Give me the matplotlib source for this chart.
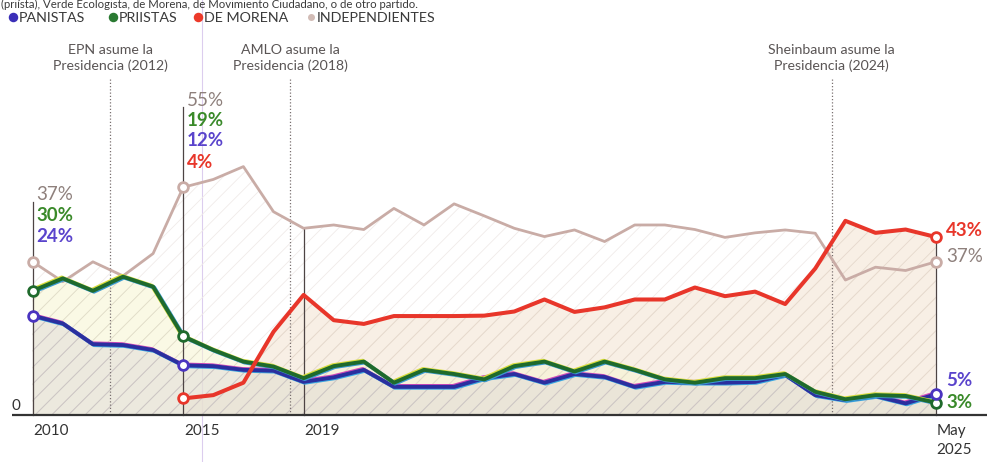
import numpy as np
import matplotlib
matplotlib.use("Agg")
import matplotlib.pyplot as plt
import matplotlib.patheffects as pe

plt.rcParams['font.family'] = ['Lato', 'DejaVu Sans']
plt.rcParams['hatch.linewidth'] = 0.6

# ---------------- data ----------------
periods = list(range(31))
tick_pos = [0, 5, 9, 30]
tick_labels = ["2010", "2015", "2019", "May\n2025"]

panistas = [24, 22.1, 17.1, 16.9, 15.7, 12, 11.8, 10.9, 10.7, 8.0,
            9.1, 10.9, 6.8, 6.8, 6.8, 8.9, 9.9, 7.8, 9.9, 9.2,
            6.8, 8.0, 7.8, 7.8, 8.0, 9.7, 4.8, 3.6, 4.6, 2.8, 5]
priistas = [30, 33.0, 30, 33.4, 31, 19, 15.7, 12.9, 11.7, 8.9,
            11.8, 12.9, 7.8, 10.9, 9.9, 8.6, 11.8, 12.9, 10.5, 12.9,
            10.9, 8.6, 7.8, 8.9, 8.9, 9.9, 5.6, 3.8, 4.8, 4.6, 3]
morena = [np.nan, np.nan, np.nan, np.nan, np.nan,
          4, 4.8, 7.8, 20.1, 29.0,
          22.9, 22.0, 23.9, 23.9, 23.9, 24.0, 25.0, 27.9, 24.9, 26.0,
          27.9, 27.9, 30.8, 28.7, 29.8, 26.8, 35.4, 46.9, 44.0, 44.8, 43]
independientes = [37, 32.2, 37, 33.6, 39, 55, 56.9, 60, 49.1, 45.1,
                  45.9, 44.8, 49.9, 45.9, 51.0, 48.1, 45.1, 43.1, 44.7, 41.9,
                  45.9, 45.9, 44.8, 42.9, 44.0, 44.7, 43.9, 32.6, 35.7, 34.9, 37]

series_names = ["PANISTAS", "PRIISTAS", "DE MORENA", "INDEPENDIENTES"]
event_labels = ["EPN asume la\nPresidencia (2012)",
                "AMLO asume la\nPresidencia (2018)",
                "Sheinbaum asume la\nPresidencia (2024)"]
event_pos = [2.57, 8.55, 26.54]
label_idx = [0, 5, 30]
top_text = "(priísta), Verde Ecologista, de Morena, de Movimiento Ciudadano, o de otro partido."

# ---------------- styles ----------------
C_PAN = '#2b2f9e'
C_PRI = '#1f6a2c'
C_MOR = '#e8362a'
C_IND = '#c9aca6'
C_PAN_T = '#5a44cc'
C_PRI_T = '#3a8a2a'
C_IND_T = '#8e807c'

W, H = 997, 462
fig = plt.figure(figsize=(W / 100, H / 100), dpi=100)
fig.patch.set_facecolor('white')
ax = fig.add_axes([0, 0, 1, 1])
ax.set_axis_off()

x0px, dxpx = 32.7, 30.1
y0px, dypx = 415.0, 4.14
ax.set_xlim(-x0px / dxpx, (W - x0px) / dxpx)
ax.set_ylim(-(H - y0px) / dypx, y0px / dypx)


def P(x, y):
    return (x / W, 1 - y / H)


x = np.array(periods, dtype=float)
pan = np.array(panistas)
pri = np.array(priistas)
mor = np.array(morena)
ind = np.array(independientes)
mmask = ~np.isnan(mor)

# ---------------- fills ----------------
ax.fill_between(x, 0, ind, facecolor='none', edgecolor='#f0ebe9', hatch='//',
                lw=0, zorder=1)
ax.fill_between(x[mmask], 0, mor[mmask], facecolor=(0.95, 0.88, 0.80, 0.50),
                edgecolor='#e5d8cc', hatch='//', lw=0, zorder=1.1)
ax.fill_between(x, 0, pri, facecolor=(0.97, 0.96, 0.82, 0.55),
                edgecolor='#e0ddc8', hatch='//', lw=0, zorder=1.2)
ax.fill_between(x, 0, pan, facecolor=(0.86, 0.84, 0.84, 0.45),
                edgecolor='#cbc4c4', hatch='//', lw=0, zorder=1.3)

# ---------------- reference lines ----------------
for ev, lab in zip(event_pos, event_labels):
    ax.plot([ev, ev], [0, (y0px - 78) / dypx], color='#7a7070', lw=0.9,
            ls=(0, (1, 1.6)), zorder=2)
    ax.text(ev, (y0px - 58) / dypx, lab, ha='center', va='center',
            fontsize=10.2, color='#5a5555', linespacing=1.3, zorder=5)

# solid verticals at labelled points
vtops = [(y0px - 202) / dypx, (y0px - 107) / dypx,
         independientes[9], morena[30]]
for xi, top in zip([0, 5, 9, 30], vtops):
    ax.plot([xi, xi], [0, top], color='#4d4444', lw=0.9, zorder=2)

# scan artifact line
ax.plot([(202 - x0px) / dxpx] * 2, [-20, 110], color='#dccdee', lw=0.8,
        zorder=0.5)

# baseline
ax.plot([(12 - x0px) / dxpx, (987 - x0px) / dxpx], [0, 0], color='#333333',
        lw=1.6, zorder=3, solid_capstyle='butt')

# ---------------- series lines ----------------
ax.plot(x, ind, color=C_IND, lw=2.0, zorder=3.5)
ax.plot(x[mmask], mor[mmask], color=C_MOR, lw=2.9, zorder=4.5)
ax.plot(x, pan, color=C_PAN, lw=2.8, zorder=4.2,
        path_effects=[pe.Stroke(offset=(-0.8, 0.6), linewidth=2.9, foreground='#d04ab8'),
                      pe.Stroke(offset=(0.8, -0.6), linewidth=2.9, foreground='#3aa6e0'),
                      pe.Normal()])
ax.plot(x, pri, color=C_PRI, lw=2.8, zorder=4.4,
        path_effects=[pe.Stroke(offset=(-0.8, 0.6), linewidth=2.9, foreground='#d8dc3a'),
                      pe.Stroke(offset=(0.8, -0.6), linewidth=2.9, foreground='#3a9ad0'),
                      pe.Normal()])

# markers
mk = dict(marker='o', ms=7, mfc='white', mew=2.0, ls='none', zorder=6)
ax.plot(label_idx, [independientes[i] for i in label_idx], mec=C_IND, **mk)
ax.plot(label_idx, [priistas[i] for i in label_idx], mec=C_PRI, **mk)
ax.plot(label_idx, [panistas[i] for i in label_idx], mec='#4a34c0', **mk)
ax.plot(label_idx[1:], [morena[i] for i in label_idx[1:]], mec=C_MOR, **mk)

# ---------------- value labels ----------------
pfs = 13.5


def pct(v):
    return f"{round(v)}%"


# 2010
for val, col, ypx, wt in [(independientes[0], C_IND_T, 195, 'normal'),
                          (priistas[0], C_PRI_T, 216, 'bold'),
                          (panistas[0], C_PAN_T, 236, 'bold')]:
    ax.text(*P(36, ypx), pct(val), transform=ax.transAxes, ha='left',
            va='center', fontsize=pfs, color=col, fontweight=wt, zorder=7)
# 2015
for val, col, ypx, wt in [(independientes[5], C_IND_T, 101, 'normal'),
                          (priistas[5], C_PRI_T, 121, 'bold'),
                          (panistas[5], C_PAN_T, 141, 'bold'),
                          (morena[5], C_MOR, 162, 'bold')]:
    ax.text(*P(187, ypx), pct(val), transform=ax.transAxes, ha='left',
            va='center', fontsize=pfs, color=col, fontweight=wt, zorder=7)
# May 2025
for val, col, ypx, wt in [(morena[30], C_MOR, 231, 'bold'),
                          (independientes[30], C_IND_T, 256, 'normal'),
                          (panistas[30], C_PAN_T, 381, 'bold'),
                          (priistas[30], C_PRI_T, 402, 'bold')]:
    ax.text(*P(946, ypx), pct(val), transform=ax.transAxes, ha='left',
            va='center', fontsize=pfs, color=col, fontweight=wt, zorder=7)

# zero label
ax.text(*P(12, 406), "0", transform=ax.transAxes, ha='left', va='center',
        fontsize=11, color='#333333')

# x tick labels
for tp, tl in zip(tick_pos, tick_labels):
    ax.text(tp + 0.03, (y0px - 424) / dypx, tl, ha='left', va='top',
            fontsize=11, color='#333333', linespacing=1.45)

# ---------------- legend ----------------
leg_x = [13, 113, 198, 311]
leg_colors = ['#3b2fb8', '#2a7a32', '#ec3a2a', '#d2bcb6']
leg_sizes = [9.5, 9.5, 9.5, 7]
for lx, lc, ls_, name in zip(leg_x, leg_colors, leg_sizes, series_names):
    ax.plot(*P(lx, 17), marker='o', ms=ls_ / 1.389, mfc=lc, mec='none',
            transform=ax.transAxes, clip_on=False, zorder=8)
    ax.text(*P(lx + 6, 17.5), name, transform=ax.transAxes, ha='left',
            va='center', fontsize=10.3, color='#3a3a3a')

# title fragment at very top (kept fully inside the figure)
ax.text(*P(1, 8.5), top_text, transform=ax.transAxes, ha='left',
        va='baseline', fontsize=8.2, color='#3a3a3a')

fig.savefig("out.png", dpi=100, facecolor='white')
